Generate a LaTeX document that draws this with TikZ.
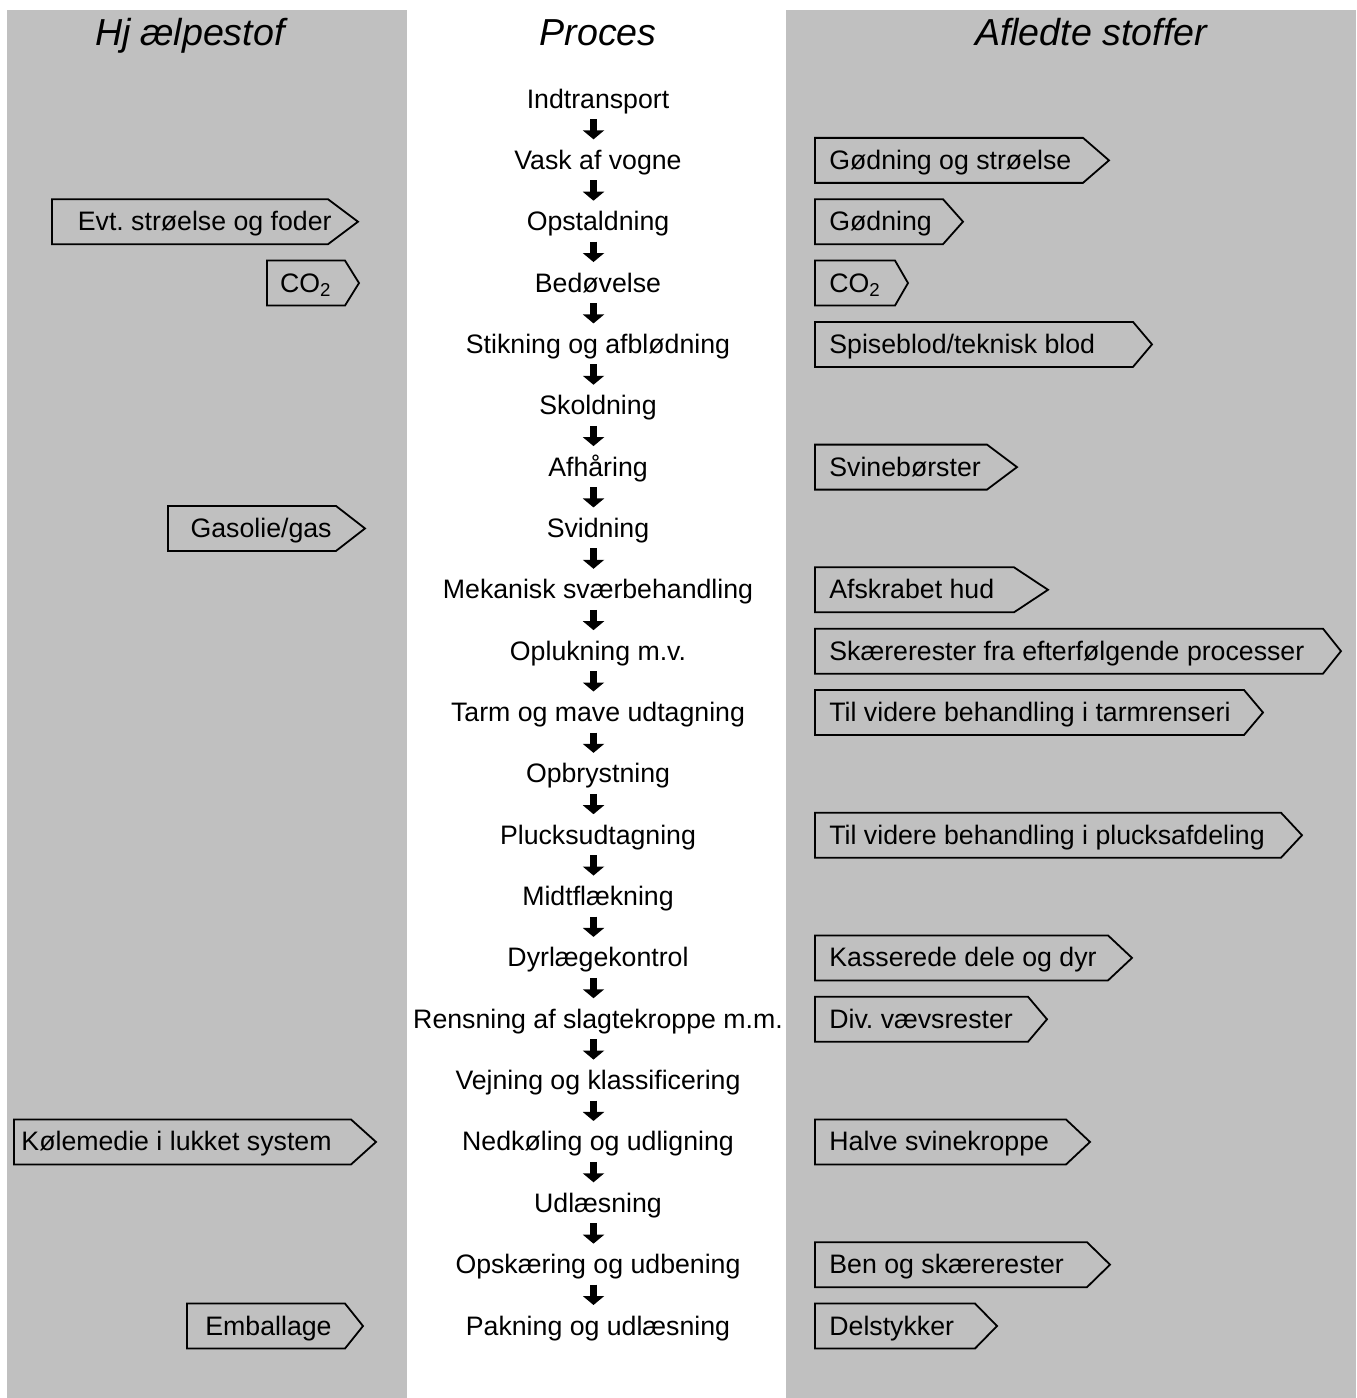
\documentclass[tikz,border=0pt]{standalone}
\usepackage{fontspec}
\setmainfont{Liberation Sans}
\usetikzlibrary{arrows.meta}
\definecolor{panelgray}{RGB}{192,192,192}
\frenchspacing

% tag pointing right, flush left at x=815, text left aligned
\newcommand{\outtag}[5]{% name, y, slant x, tip x, text
  \draw[tag] (815,#2-22.5) -- (#3,#2-22.5) -- (#4,#2) -- (#3,#2+22.5) -- (815,#2+22.5) -- cycle;
  \node[lbl, anchor=base west] (#1) at (829,#2+9) {#5};}
% tag pointing right, text right aligned at x=332
\newcommand{\intag}[6]{% name, y, left x, slant x, tip x, text
  \draw[tag] (#3,#2-22.5) -- (#4,#2-22.5) -- (#5,#2) -- (#4,#2+22.5) -- (#3,#2+22.5) -- cycle;
  \node[lbl, anchor=base east] (#1) at (332,#2+9) {#6};}

\begin{document}
\begin{tikzpicture}[x=0.5pt,y=-0.5pt,
  title/.style={font=\fontsize{18.8}{22}\selectfont\itshape, inner sep=0pt, anchor=base},
  proc/.style={font=\fontsize{13.35}{16}\selectfont, inner sep=0pt, anchor=base},
  lbl/.style={font=\fontsize{13.35}{16}\selectfont, inner sep=0pt},
  tag/.style={draw=black, fill=panelgray, line width=0.9pt, line join=miter},
  flow/.style={line width=3.5pt, -{Triangle[width=10.5pt,length=4.5pt]},
    shorten <=5.5pt, shorten >=15pt}
]
\useasboundingbox (0,0) rectangle (1356,1398);
\fill[white] (0,0) rectangle (1356,1398);

% side panels
\fill[panelgray] (7,10) rectangle (407,1398);
\fill[panelgray] (786,10) rectangle (1356,1398);

% column headings
\node[title] (hLeft) at (190,45) {Hj\hspace{0.25em}ælpestof};
\node[title] (hMid) at (598,45) {Proces};
\node[title] (hRight) at (1091,45) {Afledte stoffer};

% process chain
\foreach \t [count=\i from 0] in {Indtransport, Vask af vogne, Opstaldning,
  Bedøvelse, Stikning og afblødning, Skoldning, Afhåring, Svidning,
  Mekanisk sværbehandling, Oplukning m.v., Tarm og mave udtagning,
  Opbrystning, Plucksudtagning, Midtflækning, Dyrlægekontrol,
  Rensning af slagtekroppe m.m., Vejning og klassificering,
  Nedkøling og udligning, Udlæsning, Opskæring og udbening,
  Pakning og udlæsning}
  \node[proc] (p\i) at (598,99+61.35*\i+9) {\t};

\foreach \i [evaluate=\i as \j using int(\i+1)] in {0,...,19}
  \draw[flow] ([xshift=-2.25pt]p\i.base) -- ([xshift=-2.25pt]p\j.base);

% auxiliary inputs
\intag{aux1}{221.7}{52}{328}{358}{Evt. strøelse og foder}
\intag{aux2}{283.05}{267}{345}{359}{CO\textsubscript{2}}
\intag{aux3}{528.45}{168}{336}{365}{Gasolie/gas}
\intag{aux4}{1141.95}{14}{351}{376}{Kølemedie i lukket system}
\intag{aux5}{1326}{187}{345}{363}{Emballage}

% derived products
\outtag{out1}{160.35}{1083}{1109}{Gødning og strøelse}
\outtag{out2}{221.7}{943}{963}{Gødning}
\outtag{out3}{283.05}{895}{908}{CO\textsubscript{2}}
\outtag{out4}{344.4}{1133}{1152}{Spiseblod/teknisk blod}
\outtag{out5}{467.1}{987}{1017}{Svinebørster}
\outtag{out6}{589.8}{1014}{1048}{Afskrabet hud}
\outtag{out7}{651.15}{1323}{1341}{Skærerester fra efterfølgende processer}
\outtag{out8}{712.5}{1244}{1263}{Til videre behandling i tarmrenseri}
\outtag{out9}{835.2}{1281}{1302}{Til videre behandling i plucksafdeling}
\outtag{out10}{957.9}{1108}{1132}{Kasserede dele og dyr}
\outtag{out11}{1019.25}{1028}{1047}{Div. vævsrester}
\outtag{out12}{1141.95}{1066}{1090}{Halve svinekroppe}
\outtag{out13}{1264.65}{1087}{1110}{Ben og skærerester}
\outtag{out14}{1326}{975}{997}{Delstykker}
\end{tikzpicture}
\end{document}
